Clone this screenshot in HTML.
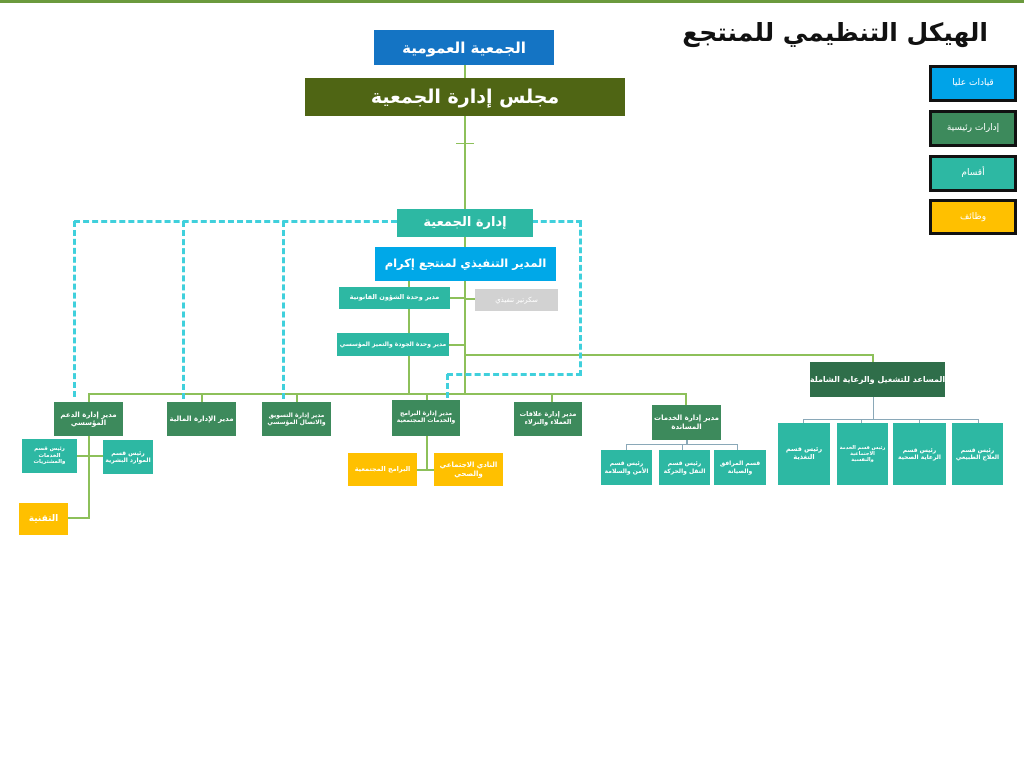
<!DOCTYPE html>
<html><head><meta charset="utf-8">
<style>
html,body{margin:0;padding:0;background:#fff;}
body{width:1024px;height:766px;position:relative;overflow:hidden;font-family:"DejaVu Sans",sans-serif;}
.b{position:absolute;display:flex;align-items:center;justify-content:center;text-align:center;color:#fff;direction:rtl;box-sizing:border-box;line-height:1.2;font-weight:bold;overflow:hidden;padding:0 1px;}
.l{position:absolute;background:#8dc05a;}
.d{position:absolute;}
.T{background:#2db8a3;}
.G{background:#3d8a5c;}
.Y{background:#ffc000;}
.leg{border:3px solid #111;font-size:9px;font-weight:normal;}
</style></head><body>
<div style="position:absolute;left:0;top:0;width:1024px;height:3px;background:#6b9a3d"></div>
<div style="position:absolute;right:36px;top:18px;white-space:nowrap;direction:rtl;font-size:25px;font-weight:bold;color:#111;">الهيكل التنظيمي للمنتجع</div>

<div class="b leg" style="left:929px;top:65px;width:88px;height:37px;background:#00a3e8">قيادات عليا</div>
<div class="b leg" style="left:929px;top:110px;width:88px;height:37px;background:#3d8a5c">إدارات رئيسية</div>
<div class="b leg" style="left:929px;top:155px;width:88px;height:37px;background:#2db8a3">أقسام</div>
<div class="b leg" style="left:929px;top:199px;width:88px;height:36px;background:#ffc000">وظائف</div>

<!-- lines -->
<div class="l" style="left:464px;top:64px;width:2px;height:14px"></div>
<div class="l" style="left:464px;top:115px;width:2px;height:280px"></div>
<div class="l" style="left:456px;top:143px;width:18px;height:1px"></div>
<div class="l" style="left:408px;top:280px;width:2px;height:115px"></div>
<div class="l" style="left:450px;top:297px;width:15px;height:2px"></div>
<div class="l" style="left:465px;top:298px;width:10px;height:2px"></div>
<div class="l" style="left:449px;top:344px;width:16px;height:2px"></div>
<div class="l" style="left:465px;top:354px;width:409px;height:2px"></div>
<div class="l" style="left:872px;top:354px;width:2px;height:8px"></div>
<div class="l" style="left:88px;top:393px;width:599px;height:2px"></div>
<div class="l" style="left:88px;top:393px;width:2px;height:9px"></div>
<div class="l" style="left:201px;top:393px;width:2px;height:9px"></div>
<div class="l" style="left:296px;top:393px;width:2px;height:9px"></div>
<div class="l" style="left:426px;top:393px;width:2px;height:7px"></div>
<div class="l" style="left:551px;top:393px;width:2px;height:9px"></div>
<div class="l" style="left:685px;top:393px;width:2px;height:12px"></div>
<div class="l" style="left:88px;top:435px;width:2px;height:84px"></div>
<div class="l" style="left:68px;top:517px;width:22px;height:2px"></div>
<div class="l" style="left:77px;top:455px;width:26px;height:2px"></div>
<div class="l" style="left:426px;top:435px;width:2px;height:35px"></div>
<div class="l" style="left:417px;top:469px;width:17px;height:2px"></div>
<div class="l" style="left:686px;top:439px;width:2px;height:6px;background:#8aa8b8"></div>
<div class="l" style="left:626px;top:444px;width:112px;height:1px;background:#8aa8b8"></div>
<div class="l" style="left:626px;top:444px;width:1px;height:6px;background:#8aa8b8"></div>
<div class="l" style="left:682px;top:444px;width:1px;height:6px;background:#8aa8b8"></div>
<div class="l" style="left:737px;top:444px;width:1px;height:6px;background:#8aa8b8"></div>
<div class="l" style="left:873px;top:396px;width:1px;height:24px;background:#8aa8b8"></div>
<div class="l" style="left:803px;top:419px;width:176px;height:1px;background:#8aa8b8"></div>
<div class="l" style="left:803px;top:419px;width:1px;height:4px;background:#8aa8b8"></div>
<div class="l" style="left:861px;top:419px;width:1px;height:4px;background:#8aa8b8"></div>
<div class="l" style="left:919px;top:419px;width:1px;height:4px;background:#8aa8b8"></div>
<div class="l" style="left:978px;top:419px;width:1px;height:4px;background:#8aa8b8"></div>

<!-- dashed -->
<div class="d" style="left:74px;top:220px;width:323px;border-top:3px dashed #40d0dc"></div>
<div class="d" style="left:532px;top:220px;width:50px;border-top:3px dashed #40d0dc"></div>
<div class="d" style="left:73px;top:221px;height:176px;border-left:3px dashed #40d0dc"></div>
<div class="d" style="left:182px;top:221px;height:178px;border-left:3px dashed #40d0dc"></div>
<div class="d" style="left:282px;top:221px;height:178px;border-left:3px dashed #40d0dc"></div>
<div class="d" style="left:579px;top:221px;height:155px;border-left:3px dashed #40d0dc"></div>
<div class="d" style="left:447px;top:373px;width:135px;border-top:3px dashed #40d0dc"></div>
<div class="d" style="left:446px;top:374px;height:24px;border-left:3px dashed #40d0dc"></div>

<!-- boxes -->
<div class="b" style="left:374px;top:30px;width:180px;height:35px;background:#1474c4;font-size:15px">الجمعية العمومية</div>
<div class="b" style="left:305px;top:78px;width:320px;height:38px;background:#4f6514;font-size:19px">مجلس إدارة الجمعية</div>
<div class="b T" style="left:397px;top:209px;width:136px;height:28px;font-size:13px">إدارة الجمعية</div>
<div class="b" style="left:375px;top:247px;width:181px;height:34px;background:#00a8e8;font-size:11.5px;white-space:nowrap">المدير التنفيذي لمنتجع إكرام</div>
<div class="b T" style="left:339px;top:287px;width:111px;height:22px;font-size:6.5px;white-space:nowrap">مدير وحدة الشؤون القانونية</div>
<div class="b" style="left:475px;top:289px;width:83px;height:22px;background:#d2d2d2;font-size:7px;font-weight:normal">سكرتير تنفيذي</div>
<div class="b T" style="left:337px;top:333px;width:112px;height:23px;font-size:6px;white-space:nowrap">مدير وحدة الجودة والتميز المؤسسي</div>
<div class="b" style="left:810px;top:362px;width:135px;height:35px;background:#2f6e4a;font-size:8px;white-space:nowrap">المساعد للتشغيل والرعاية الشاملة</div>

<div class="b G" style="left:54px;top:402px;width:69px;height:34px;font-size:7px">مدير إدارة الدعم المؤسسي</div>
<div class="b G" style="left:167px;top:402px;width:69px;height:34px;font-size:7px">مدير الإدارة المالية</div>
<div class="b G" style="left:262px;top:402px;width:69px;height:34px;font-size:6px">مدير إدارة التسويق والاتصال المؤسسي</div>
<div class="b G" style="left:392px;top:400px;width:68px;height:36px;font-size:6px;line-height:1.15">مدير إدارة البرامج والخدمات المجتمعية</div>
<div class="b G" style="left:514px;top:402px;width:68px;height:34px;font-size:6.5px">مدير إدارة علاقات العملاء والنزلاء</div>
<div class="b G" style="left:652px;top:405px;width:69px;height:35px;font-size:7px">مدير إدارة الخدمات المساندة</div>

<div class="b T" style="left:22px;top:439px;width:55px;height:34px;font-size:5.5px">رئيس قسم الخدمات والمشتريات</div>
<div class="b T" style="left:103px;top:440px;width:50px;height:34px;font-size:6px">رئيس قسم الموارد البشرية</div>
<div class="b Y" style="left:19px;top:503px;width:49px;height:32px;font-size:9px">التقنية</div>
<div class="b Y" style="left:348px;top:453px;width:69px;height:33px;font-size:6.5px">البرامج المجتمعية</div>
<div class="b Y" style="left:434px;top:453px;width:69px;height:33px;font-size:7px">النادي الاجتماعي والصحي</div>

<div class="b T" style="left:601px;top:450px;width:51px;height:35px;font-size:6px">رئيس قسم الأمن والسلامة</div>
<div class="b T" style="left:659px;top:450px;width:51px;height:35px;font-size:6px">رئيس قسم النقل والحركة</div>
<div class="b T" style="left:714px;top:450px;width:52px;height:35px;font-size:6px">قسم المرافق والصيانة</div>

<div class="b T" style="left:778px;top:423px;width:52px;height:62px;font-size:6.5px">رئيس قسم التغذية</div>
<div class="b T" style="left:837px;top:423px;width:51px;height:62px;font-size:5px">رئيس قسم الخدمة الاجتماعية والنفسية</div>
<div class="b T" style="left:893px;top:423px;width:53px;height:62px;font-size:6px">رئيس قسم الرعاية الصحية</div>
<div class="b T" style="left:952px;top:423px;width:51px;height:62px;font-size:6px">رئيس قسم العلاج الطبيعي</div>
</body></html>
